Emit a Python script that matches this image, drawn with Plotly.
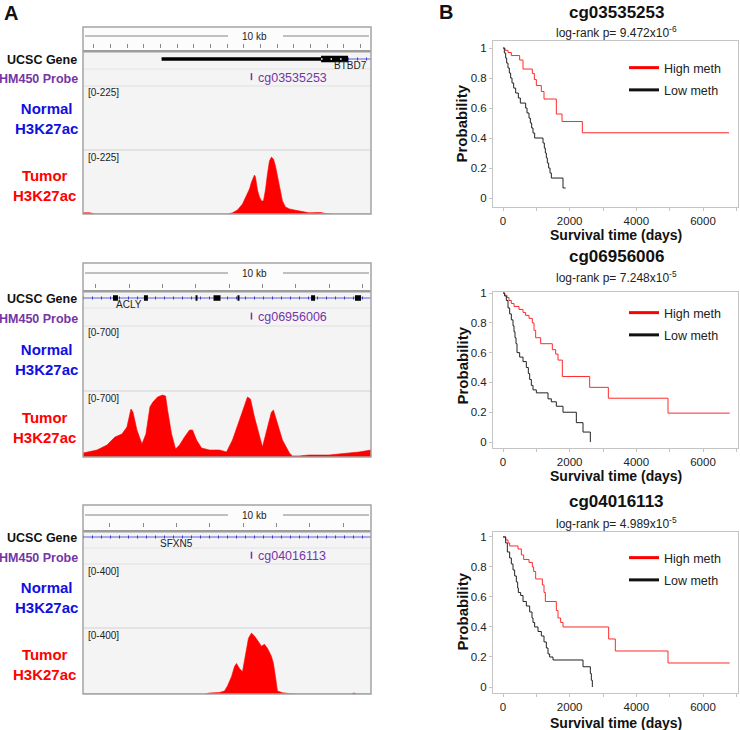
import plotly.graph_objects as go

W, H = 740, 730
FONT = "Liberation Sans, Arial, sans-serif"


def fx(x):
    return x / W


def fy(y):
    return 1 - y / H


# ---------------- Panel A: genome-browser data ----------------
span_kb = 8.65
genes = ["BTBD7", "ACLY", "SFXN5"]
probes = ["cg03535253", "cg06956006", "cg04016113"]
scale_max = [225, 700, 400]
probe_kb = [5.06, 5.06, 5.06]
gene_label_kb = [8.02, 1.38, 2.81]
ruler_tick0 = [0.33, 0.39, 0.81]
ruler_dtick = [0.5, 1.0, 1.0]

# gene models (kb from window start)
btbd7_utr = [2.36, 7.15]
btbd7_cds = [7.15, 7.96]
btbd7_intron = [7.96, 8.65]
acly_intron = [0.0, 8.65]
acly_exon_start = [0.90, 1.83, 3.38, 3.92, 4.64, 6.85, 8.17]
acly_exon_end = [1.05, 1.95, 3.44, 4.13, 4.70, 6.97, 8.35]
sfxn5_intron = [0.0, 8.65]

# Tumor H3K27ac signal (normal tracks are empty)
t1_kb = [0, 0.21, 0.36, 4.34, 4.49, 4.64, 4.79, 4.91, 5.00, 5.06, 5.12, 5.15, 5.18,
         5.24, 5.30, 5.36, 5.42, 5.48, 5.54, 5.60, 5.66, 5.72, 5.78, 5.84, 5.90, 5.99,
         6.08, 6.20, 6.35, 6.49, 6.64, 6.79, 7.03, 7.15, 7.27, 7.54, 8.65]
t1_val = [4, 4, 0, 0, 4, 14, 35, 63, 88, 112, 134, 137, 130, 84, 60, 46, 46, 84, 141,
          186, 200, 193, 169, 134, 91, 46, 25, 18, 14, 11, 7, 4, 5, 5, 2, 0, 0]

t2_kb = [0, 0.42, 0.72, 0.96, 1.17, 1.32, 1.44, 1.50, 1.62, 1.77, 1.89, 2.01, 2.10, 2.24,
         2.39, 2.48, 2.54, 2.66, 2.78, 2.90, 3.05, 3.20, 3.29, 3.41, 3.56, 3.80, 4.10,
         4.31, 4.49, 4.70, 4.85, 4.94, 5.03, 5.15, 5.39, 5.51, 5.66, 5.72, 5.84, 5.99,
         6.20, 6.29, 6.49, 6.79, 7.09, 7.39, 7.69, 7.99, 8.29, 8.65]
t2_val = [42, 74, 127, 212, 244, 318, 509, 477, 286, 138, 244, 530, 583, 636, 657, 647,
          498, 244, 85, 127, 212, 286, 286, 180, 95, 74, 74, 53, 180, 392, 562, 636, 615,
          424, 106, 286, 477, 498, 350, 180, 42, 11, 11, 21, 21, 21, 32, 42, 53, 74]

t3_kb = [0, 3.65, 3.80, 4.10, 4.25, 4.34, 4.46, 4.55, 4.61, 4.70, 4.79, 4.91, 4.97, 5.06,
         5.15, 5.24, 5.36, 5.45, 5.54, 5.66, 5.72, 5.78, 5.84, 5.99, 6.20, 6.49, 8.05,
         8.14, 8.23, 8.65]
t3_val = [0, 0, 6, 9, 18, 49, 105, 166, 185, 154, 135, 264, 338, 369, 351, 326, 289, 301,
          277, 228, 185, 105, 18, 8, 2, 0, 0, 6, 0, 0]

tumor_kb = [t1_kb, t2_kb, t3_kb]
tumor_val = [t1_val, t2_val, t3_val]

# ---------------- Panel B: Kaplan-Meier data ----------------
km_titles = ["cg03535253", "cg06956006", "cg04016113"]
km_pvals = ["9.472x10<sup>-6</sup>", "7.248x10<sup>-5</sup>", "4.989x10<sup>-5</sup>"]

hi1_t = [0, 60, 150, 250, 500, 600, 880, 940, 1000, 1150, 1230, 1600, 1770, 2380, 6780]
hi1_s = [1.0, 0.985, 0.97, 0.95, 0.92, 0.86, 0.83, 0.79, 0.75, 0.71, 0.66, 0.56, 0.51, 0.435, 0.435]
lo1_t = [0, 40, 80, 110, 150, 190, 230, 270, 320, 380, 460, 520, 680, 720, 780, 820, 860,
         900, 950, 1200, 1240, 1270, 1300, 1330, 1370, 1410, 1450, 1800, 1880]
lo1_s = [1.0, 0.967, 0.933, 0.9, 0.867, 0.833, 0.8, 0.767, 0.733, 0.7, 0.667, 0.633, 0.6,
         0.567, 0.533, 0.5, 0.467, 0.433, 0.4, 0.367, 0.333, 0.3, 0.267, 0.233, 0.2, 0.167,
         0.133, 0.067, 0.067]

hi2_t = [0, 50, 120, 180, 250, 330, 480, 600, 680, 780, 880, 930, 980, 1130, 1480, 1580,
         1650, 1780, 2600, 3160, 4950, 6800]
hi2_s = [1.0, 0.985, 0.97, 0.95, 0.93, 0.91, 0.89, 0.87, 0.85, 0.83, 0.80, 0.75, 0.70, 0.66,
         0.62, 0.59, 0.55, 0.44, 0.367, 0.294, 0.194, 0.194]
lo2_t = [0, 50, 100, 150, 200, 250, 300, 330, 360, 390, 420, 500, 600, 700, 760, 800, 850,
         900, 1000, 1350, 1450, 1600, 1800, 2200, 2400, 2620]
lo2_s = [1.0, 0.98, 0.95, 0.9, 0.86, 0.82, 0.78, 0.74, 0.7, 0.66, 0.6, 0.57, 0.54, 0.5, 0.46,
         0.42, 0.38, 0.35, 0.33, 0.29, 0.27, 0.24, 0.2, 0.13, 0.067, 0.0]

hi3_t = [0, 80, 150, 200, 450, 550, 620, 780, 880, 920, 980, 1180, 1230, 1270, 1600, 1650,
         1730, 1800, 3170, 3370, 4950, 6800]
hi3_s = [1.0, 0.98, 0.96, 0.94, 0.92, 0.88, 0.85, 0.83, 0.80, 0.77, 0.72, 0.68, 0.63, 0.57,
         0.51, 0.46, 0.43, 0.40, 0.32, 0.24, 0.16, 0.16]
lo3_t = [0, 80, 130, 200, 250, 300, 350, 400, 440, 460, 530, 600, 700, 800, 870, 900, 950,
         1050, 1150, 1230, 1300, 1350, 1400, 1500, 2400, 2620, 2650, 2680]
lo3_s = [1.0, 0.96, 0.9, 0.86, 0.82, 0.78, 0.74, 0.7, 0.66, 0.63, 0.61, 0.57, 0.54, 0.5,
         0.46, 0.43, 0.4, 0.37, 0.34, 0.3, 0.26, 0.22, 0.2, 0.18, 0.135, 0.09, 0.045, 0.0]

km_high = [(hi1_t, hi1_s), (hi2_t, hi2_s), (hi3_t, hi3_s)]
km_low = [(lo1_t, lo1_s), (lo2_t, lo2_s), (lo3_t, lo3_s)]
y_ticks = [0, 0.2, 0.4, 0.6, 0.8, 1.0]
y_ticktext = ["0", "0.2", "0.4", "0.6", "0.8", "1"]

# ---------------- layout geometry (pixels) ----------------
BOX = [
    dict(top=27, ruler=36, tick=43, dbl=50, gene=59, sep1=69, sep2=86, sep3=150, bottom=214),
    dict(top=263, ruler=273, tick=283, dbl=290, gene=298, sep1=308, sep2=326, sep3=391, bottom=457),
    dict(top=505, ruler=515, tick=522, dbl=530, gene=537, sep1=548, sep2=564, sep3=628, bottom=694),
]
BX0, BX1 = 83, 371
KM = [
    dict(top=41, bottom=207, yr=[-0.06, 1.047], title=12, sub=32, leg=53, xt=235, yl=124),
    dict(top=292, bottom=448, yr=[-0.04, 1.007], title=257, sub=277, leg=298, xt=476, yl=366),
    dict(top=532, bottom=693, yr=[-0.04, 1.033], title=502, sub=523, leg=543, xt=722.5, yl=612),
]

RED = "#ff0000"
BLUE = "#1010e0"
PURPLE = "#7434a8"
GENEBLUE = "#3a3ad8"

layout = dict(
    width=W, height=H, margin=dict(l=0, r=0, t=0, b=0, pad=0, autoexpand=False),
    paper_bgcolor="white", plot_bgcolor="rgba(0,0,0,0)",
    font=dict(family=FONT, color="#222"), hovermode=False,
    shapes=[], annotations=[],
)
data = []
count = [0]


def add_axes(x0, x1, ytop, ybot, xr, yr, xextra=None, yextra=None):
    count[0] += 1
    i = count[0]
    s = "" if i == 1 else str(i)
    xa = dict(domain=[fx(x0), fx(x1)], range=xr, anchor="y" + s, visible=False,
              fixedrange=True, automargin=False)
    ya = dict(domain=[fy(ybot), fy(ytop)], range=yr, anchor="x" + s, visible=False,
              fixedrange=True, automargin=False)
    if xextra:
        xa.update(xextra)
    if yextra:
        ya.update(yextra)
    layout["xaxis" + s] = xa
    layout["yaxis" + s] = ya
    return "x" + s, "y" + s


def ann(text, x, y, size, color="#222", bold=False, xanchor="center", yanchor="middle", **kw):
    if bold:
        text = "<b>" + text + "</b>"
    d = dict(text=text, x=fx(x), y=fy(y), xref="paper", yref="paper", showarrow=False,
             xanchor=xanchor, yanchor=yanchor, font=dict(size=size, color=color, family=FONT))
    d.update(kw)
    layout["annotations"].append(d)


def rect(x0, y0, x1, y1, fill=None, line=None, lw=0, layer="below"):
    layout["shapes"].append(dict(type="rect", xref="paper", yref="paper",
                                 x0=fx(x0), x1=fx(x1), y0=fy(y0), y1=fy(y1),
                                 fillcolor=fill if fill else "rgba(0,0,0,0)",
                                 line=dict(color=line if line else "rgba(0,0,0,0)", width=lw),
                                 layer=layer))


def hline(x0, x1, y, color, width=1, layer="below"):
    layout["shapes"].append(dict(type="line", xref="paper", yref="paper",
                                 x0=fx(x0), x1=fx(x1), y0=fy(y), y1=fy(y),
                                 line=dict(color=color, width=width), layer=layer))


def seg_xy(starts, ends):
    xs, ys = [], []
    for a, b in zip(starts, ends):
        xs += [a, b, None]
        ys += [0, 0, None]
    return xs, ys


ann("A", 11, 13, 20, color="#111", bold=True)
ann("B", 446, 12, 20, color="#111", bold=True)

for i, b in enumerate(BOX):
    # backgrounds / separators
    rect(BX0, b["top"], BX1, b["bottom"], fill="#f4f4f4")
    rect(BX0, b["top"], BX1, b["dbl"], fill="#fcfcfc")
    rect(BX0, b["dbl"], BX1, b["dbl"] + 2.5, fill="#9c9c9c")
    hline(BX0, BX1, b["sep1"], "#e4e4e4")
    hline(BX0, BX1, b["sep2"], "#e0e0e0")
    hline(BX0, BX1, b["sep3"], "#d2d2d2")
    rect(BX0, b["top"], BX1, b["bottom"], line="#a4a4a4", lw=1.5, layer="above")
    # ruler line + label
    hline(85, 228, b["ruler"], "#666", 0.8)
    hline(283, 369, b["ruler"], "#666", 0.8)
    ann("10 kb", 255, b["ruler"], 10, color="#222")
    # ruler ticks via axis
    xr_, yr_ = add_axes(BX0, BX1, b["tick"] - 5, b["tick"], [0, span_kb], [0, 1],
                        xextra=dict(visible=True, showticklabels=False, showgrid=False,
                                    zeroline=False, showline=False, ticks="outside",
                                    ticklen=4, tickwidth=1, tickcolor="#8a8a8a",
                                    tickmode="linear", tick0=ruler_tick0[i],
                                    dtick=ruler_dtick[i]))
    data.append(go.Scatter(x=[None], y=[None], xaxis=xr_, yaxis=yr_, showlegend=False))

    # gene track
    gx, gy = add_axes(BX0, BX1, b["gene"] - 8, b["gene"] + 8, [0, span_kb], [-1, 1])
    if i == 0:
        intr = btbd7_intron
    elif i == 1:
        intr = acly_intron
    else:
        intr = sfxn5_intron
    data.append(go.Scatter(x=intr, y=[0, 0], mode="lines", xaxis=gx, yaxis=gy,
                           line=dict(color=GENEBLUE, width=0.8), showlegend=False))
    data.append(go.Scatter(x=intr, y=[0, 0], mode="lines", xaxis=gx, yaxis=gy,
                           line=dict(color=GENEBLUE, width=3, dash="1px,8px"), showlegend=False))
    if i == 0:
        data.append(go.Scatter(x=btbd7_utr, y=[0, 0], mode="lines", xaxis=gx, yaxis=gy,
                               line=dict(color="black", width=3.5), showlegend=False))
        data.append(go.Scatter(x=btbd7_cds, y=[0, 0], mode="lines", xaxis=gx, yaxis=gy,
                               line=dict(color="black", width=6.5), showlegend=False))
        data.append(go.Scatter(x=btbd7_cds, y=[0, 0], mode="lines", xaxis=gx, yaxis=gy,
                               line=dict(color="white", width=1.5, dash="1.5px,8px"),
                               showlegend=False))
    if i == 1:
        ex, ey = seg_xy(acly_exon_start, acly_exon_end)
        data.append(go.Scatter(x=ex, y=ey, mode="lines", xaxis=gx, yaxis=gy,
                               line=dict(color="black", width=5.5), showlegend=False))
    layout["annotations"].append(dict(text=genes[i], x=gene_label_kb[i], y=-0.85, xref=gx, yref=gy,
                                      showarrow=False, xanchor="center", yanchor="middle",
                                      font=dict(size=10, color="#222", family=FONT)))

    # probe track
    px_, py_ = add_axes(BX0, BX1, b["sep1"], b["sep2"], [0, span_kb], [-1, 1])
    data.append(go.Scatter(x=[probe_kb[i]], y=[0.1], mode="markers", xaxis=px_, yaxis=py_,
                           marker=dict(symbol="line-ns", size=5, line=dict(color=PURPLE, width=1.5)),
                           showlegend=False))
    layout["annotations"].append(dict(text=probes[i], x=probe_kb[i] + 0.13, y=0, xref=px_, yref=py_,
                                      showarrow=False, xanchor="left", yanchor="middle",
                                      font=dict(size=12.5, color=PURPLE, family=FONT)))

    # tumor track
    tx, ty = add_axes(BX0, BX1, b["sep3"], b["bottom"], [0, span_kb], [0, scale_max[i]])
    data.append(go.Scatter(x=tumor_kb[i], y=tumor_val[i], mode="lines", fill="tozeroy",
                           fillcolor=RED, line=dict(color=RED, width=0.6),
                           xaxis=tx, yaxis=ty, showlegend=False))

    # track scale labels
    rng = "[0-%d]" % scale_max[i]
    ann(rng, 85.5, b["sep2"] + 7, 10, color="#222", xanchor="left")
    ann(rng, 85.5, b["sep3"] + 7, 10, color="#222", xanchor="left")

    # left labels
    ann("UCSC Gene", 79, b["gene"] + 1, 12.5, color="#111", bold=True, xanchor="right")
    ann("HM450 Probe", 80, (b["sep1"] + b["sep2"]) / 2 + 1.5, 12.5, color=PURPLE, bold=True,
        xanchor="right")
    ann("Normal<br>H3K27ac", 46, (b["sep2"] + b["sep3"]) / 2 + 1, 15, color=BLUE, bold=True)
    ann("Tumor<br>H3K27ac", 44, (b["sep3"] + b["bottom"]) / 2 + 3, 15, color=RED, bold=True)

# ---------------- Panel B ----------------
FRAME = "#c4c4c4"
for i, k in enumerate(KM):
    kx, ky = add_axes(
        493, 738, k["top"], k["bottom"], [-300, 7050], k["yr"],
        xextra=dict(visible=True, showline=True, mirror=True, linecolor=FRAME, linewidth=1,
                    ticks="outside", ticklen=3, tickcolor=FRAME, tickmode="linear",
                    tick0=0, dtick=2000, showgrid=False, zeroline=False,
                    minor=dict(tick0=0, dtick=1000, ticks="outside", ticklen=3,
                               tickcolor=FRAME, showgrid=False),
                    tickfont=dict(size=11.5, color="#222", family=FONT)),
        yextra=dict(visible=True, showline=True, mirror=True, linecolor=FRAME, linewidth=1,
                    ticks="outside", ticklen=3, tickcolor=FRAME, tickmode="array",
                    tickvals=y_ticks, ticktext=y_ticktext, showgrid=False, zeroline=False,
                    tickfont=dict(size=11.5, color="#222", family=FONT)),
    )
    leg = "legend" if i == 0 else "legend%d" % (i + 1)
    ht, hs = km_high[i]
    lt, ls = km_low[i]
    data.append(go.Scatter(x=ht, y=hs, mode="lines", line=dict(color="#ff2a2a", width=1, shape="hv"),
                           xaxis=kx, yaxis=ky, showlegend=False))
    data.append(go.Scatter(x=lt, y=ls, mode="lines", line=dict(color="#222", width=1, shape="hv"),
                           xaxis=kx, yaxis=ky, showlegend=False))
    data.append(go.Scatter(x=[None], y=[None], mode="lines", name="High meth", legend=leg,
                           legendgroup="h%d" % i, line=dict(color="#ff0000", width=3),
                           xaxis=kx, yaxis=ky))
    data.append(go.Scatter(x=[None], y=[None], mode="lines", name="Low meth", legend=leg,
                           legendgroup="l%d" % i, line=dict(color="#111", width=3),
                           xaxis=kx, yaxis=ky))
    layout[leg] = dict(x=fx(624), y=fy(k["leg"]), xanchor="left", yanchor="top",
                       bgcolor="rgba(0,0,0,0)", borderwidth=0, tracegroupgap=3,
                       traceorder="grouped", itemwidth=30,
                       font=dict(size=12.5, color="#222", family=FONT))
    ann(km_titles[i], 616.5, k["title"], 17, color="#111", bold=True)
    ann("log-rank p= " + km_pvals[i], 616.5, k["sub"], 12, color="#222")
    ann("Survival time (days)", 616, k["xt"], 14, color="#111", bold=True)
    ann("Probability", 461.5, k["yl"], 15, color="#111", bold=True, textangle=-90)

fig = go.Figure(data=data, layout=layout)
fig.write_html(
    "out.html",
    config={"displayModeBar": False, "staticPlot": True},
    post_script="document.body.style.margin='0';document.body.style.padding='0';"
                "document.body.style.overflow='hidden';",
)
